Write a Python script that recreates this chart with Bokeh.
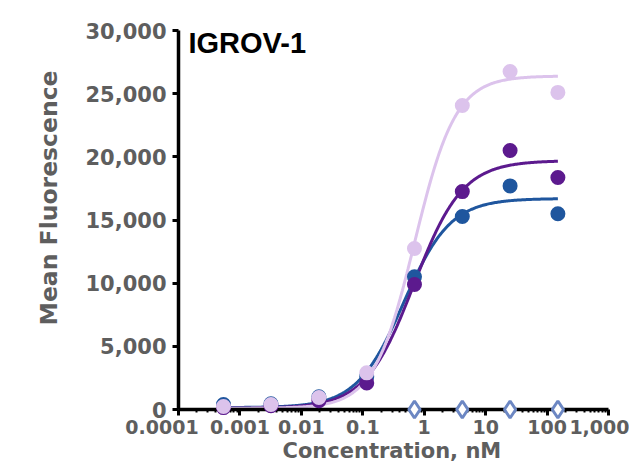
import numpy as np
from bokeh.plotting import figure
from bokeh.models import Range1d, FixedTicker, NumeralTickFormatter, Label, Title
from bokeh.embed import file_html
from bokeh.resources import INLINE

# ---- data ----
conc = [0.00054, 0.0032, 0.0193, 0.116, 0.694, 4.17, 25.0, 150.0]
lavender_vals = [240, 400, 950, 2900, 12740, 24060, 26750, 25100]
purple_vals = [150, 300, 700, 2100, 9900, 17250, 20500, 18360]
blue_vals = [400, 450, 1000, 2600, 10500, 15280, 17700, 15500]
ctrl_conc = [0.694, 4.17, 25.0, 150.0]
ctrl_vals = [0, 0, 0, 0]

# 4-parameter logistic fit parameters [bottom, top, ec50, hill]
lavender_fit = [100, 26400, 0.70, 1.30]
purple_fit = [100, 19700, 0.68, 1.10]
blue_fit = [150, 16700, 0.46, 1.14]

x_tick_values = [0.0001, 0.001, 0.01, 0.1, 1, 10, 100, 1000]
x_tick_labels = ["0.0001", "0.001", "0.01", "0.1", "1", "10", "100", "1,000"]
y_tick_values = [0, 5000, 10000, 15000, 20000, 25000, 30000]

title_text = "IGROV-1"
y_label = "Mean Fluorescence"
x_label = "Concentration, nM"

LAV = "#dcc3ec"
PUR = "#5c1a8e"
BLU = "#1f569e"
CTRL = "#6c87c3"
GREY = "#5e5e5e"
TICK_FONT = "DejaVu Sans"


def fourpl(x, p):
    b, t, ec, h = p
    x = np.asarray(x, dtype=float)
    return b + (t - b) / (1.0 + (ec / x) ** h)


p = figure(x_axis_type="log", output_backend="svg", toolbar_location=None,
           width=629, height=462,
           min_border_left=178, min_border_right=21, min_border_top=30,
           min_border_bottom=53,
           x_range=Range1d(0.0001, 1000), y_range=Range1d(0, 30000))
p.outline_line_color = None
p.grid.grid_line_color = None
p.background_fill_color = "white"
p.border_fill_color = "white"

# axes
xa = p.xaxis[0]
xa.ticker = FixedTicker(ticks=x_tick_values,
                        minor_ticks=[k * 10.0 ** e for e in range(-4, 3) for k in range(2, 10)])
# first label nudged left (as in the reference) with trailing no-break spaces
xa.major_label_overrides = {v: (lab if i > 0 else lab + "\u00a0" * 5)
                            for i, (v, lab) in enumerate(zip(x_tick_values, x_tick_labels))}
xa.axis_line_width = 3.5
xa.axis_line_color = "black"
xa.major_tick_line_width = 3
xa.major_tick_out = 6
xa.major_tick_in = 0
xa.minor_tick_line_width = 2
xa.minor_tick_out = 3
xa.minor_tick_in = 0
xa.major_label_text_font = TICK_FONT
xa.major_label_text_font_style = "bold"
xa.major_label_text_font_size = "19px"
xa.major_label_text_color = GREY
xa.major_label_standoff = 0

ya = p.yaxis[0]
ya.ticker = FixedTicker(ticks=y_tick_values)
ya.formatter = NumeralTickFormatter(format="0,0")
ya.axis_line_width = 3.5
ya.axis_line_color = "black"
ya.major_tick_line_width = 3
ya.major_tick_out = 6
ya.major_tick_in = 0
ya.minor_tick_line_color = None
ya.major_label_text_font = TICK_FONT
ya.major_label_text_font_style = "bold"
ya.major_label_text_font_size = "21px"
ya.major_label_text_color = GREY
ya.major_label_standoff = 6

# curves
xc = np.logspace(np.log10(conc[0]), np.log10(conc[-1]), 300)
p.line(xc, fourpl(xc, blue_fit), line_color=BLU, line_width=3)
p.line(xc, fourpl(xc, purple_fit), line_color=PUR, line_width=3)
p.line(xc, fourpl(xc, lavender_fit), line_color=LAV, line_width=3)

# points
p.scatter(conc, blue_vals, size=15, fill_color=BLU, line_color=None, level="overlay")
p.scatter(conc, purple_vals, size=15, fill_color=PUR, line_color=None, level="overlay")
p.scatter(conc, lavender_vals, size=15, fill_color=LAV, line_color=None, level="overlay")
p.scatter(ctrl_conc, ctrl_vals, marker="diamond", size=17, fill_color="white",
          line_color=CTRL, line_width=3, level="overlay")

# in-plot title
p.add_layout(Label(x=x_tick_values[0], y=30000, x_offset=10, y_offset=-12,
                   text=title_text, text_font="Liberation Sans", text_font_style="bold",
                   text_font_size="29px", text_color="black", text_align="left",
                   text_baseline="alphabetic"))

# axis titles
p.add_layout(Title(text=y_label, align="left", offset=84, standoff=40,
                   text_font=TICK_FONT, text_font_style="bold",
                   text_font_size="23.5px", text_color=GREY), "left")
p.add_layout(Title(text=x_label, align="left", offset=104, standoff=-8,
                   text_font=TICK_FONT, text_font_style="bold",
                   text_font_size="21px", text_color=GREY), "below")

open("out.html", "w").write(file_html(p, INLINE))
